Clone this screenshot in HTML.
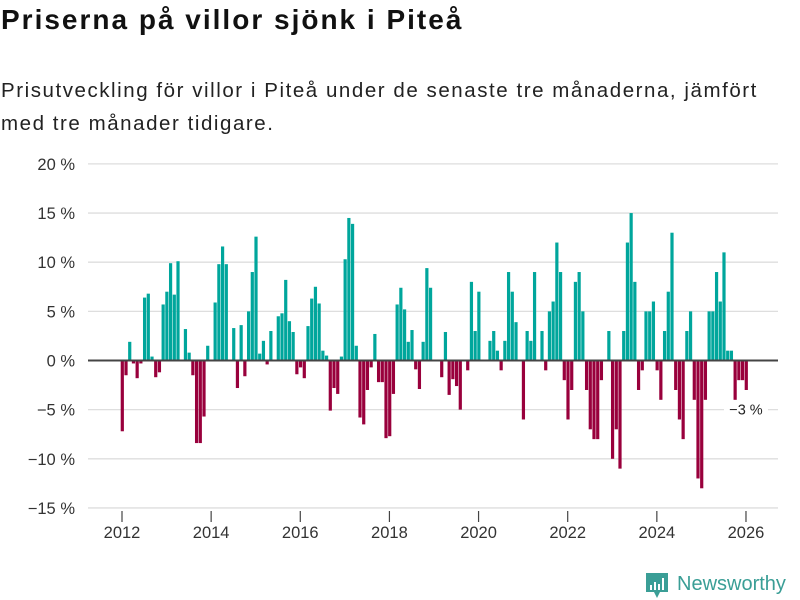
<!DOCTYPE html>
<html><head><meta charset="utf-8">
<style>
body{margin:0;background:#fff;width:800px;height:600px;overflow:hidden;font-family:"Liberation Sans","DejaVu Sans",sans-serif;}
#title{position:absolute;left:1px;top:4px;font-size:28px;font-weight:bold;color:#111;margin:0;letter-spacing:2px;white-space:nowrap}
#sub{position:absolute;left:1px;top:74px;font-size:20.5px;color:#222;line-height:33px;margin:0;width:790px;letter-spacing:1.55px}
svg{position:absolute;left:0;top:0}
</style></head><body>
<h1 id="title">Priserna på villor sjönk i Piteå</h1>
<p id="sub">Prisutveckling för villor i Piteå under de senaste tre månaderna, jämfört med tre månader tidigare.</p>
<svg id="chart" width="800" height="600"></svg>
<script>
const startYear = 2012;
const values = [
-7.2,-1.5,1.9,-0.3,-1.8,-0.3,6.4,6.8,0.4,-1.7,-1.2,5.7,
7.0,9.9,6.7,10.1,0,3.2,0.8,-1.5,-8.4,-8.4,-5.7,1.5,
0,5.9,9.8,11.6,9.8,0,3.3,-2.8,3.6,-1.6,5.0,9.0,
12.6,0.7,2.0,-0.4,3.0,0,4.5,4.8,8.2,4.0,2.9,-1.4,
-0.7,-1.8,3.5,6.3,7.5,5.8,1.0,0.5,-5.1,-2.8,-3.4,0.4,
10.3,14.5,13.9,1.5,-5.8,-6.5,-3.0,-0.7,2.7,-2.2,-2.2,-7.9,
-7.7,-3.4,5.7,7.4,5.2,1.9,3.1,-0.9,-2.9,1.9,9.4,7.4,
0,0,-1.7,2.9,-3.5,-1.9,-2.6,-5.0,0,-1.0,8.0,3.0,
7.0,0,0,2.0,3.0,1.0,-1.0,2.0,9.0,7.0,3.9,0,
-6.0,3.0,2.0,9.0,0,3.0,-1.0,5.0,6.0,12.0,9.0,-2.0,
-6.0,-3.0,8.0,9.0,5.0,-3.0,-7.0,-8.0,-8.0,-2.0,0,3.0,
-10.0,-7.0,-11.0,3.0,12.0,15.0,8.0,-3.0,-1.0,5.0,5.0,6.0,
-1.0,-4.0,3.0,7.0,13.0,-3.0,-6.0,-8.0,3.0,5.0,-4.0,-12.0,
-13.0,-4.0,5.0,5.0,9.0,6.0,11.0,1.0,1.0,-4.0,-2.0,-2.0,
-3.0
];
const yTicks = [20,15,10,5,0,-5,-10,-15];
const yTickLabels = ["20 %","15 %","10 %","5 %","0 %","−5 %","−10 %","−15 %"];
const xTicks = [2012,2014,2016,2018,2020,2022,2024,2026];
const lastLabel = "−3 %";

const NS="http://www.w3.org/2000/svg";
const svg=document.getElementById('chart');
function y(v){return 360.5 - v*9.83;}
function x(yearFrac){return 122 + (yearFrac-2012)*44.57;}
function mk(t,a){const e=document.createElementNS(NS,t);for(const k in a)e.setAttribute(k,a[k]);svg.appendChild(e);return e;}

yTicks.forEach((t,i)=>{
  if(t!==0){const g=mk('line',{x1:88,x2:778,y1:y(t),y2:y(t),stroke:'#dedede','stroke-width':1.3});
  
  }
  const l=mk('text',{x:75,y:y(t)+6,'text-anchor':'end','font-size':16.5,fill:'#333','font-family':'Liberation Sans, sans-serif'});
  l.textContent=yTickLabels[i];
  
  
});
xTicks.forEach(t=>{
  const tk=mk('line',{x1:x(t),x2:x(t),y1:511,y2:522,stroke:'#444','stroke-width':1.2});
  
  
  const l=mk('text',{x:x(t),y:538,'text-anchor':'middle','font-size':16.5,fill:'#333','font-family':'Liberation Sans, sans-serif'});
  l.textContent=t;
  
  
});
values.forEach((v,i)=>{
  const cx=x(startYear+i/12)+0.3;
  const top=v>=0?y(v):y(0);
  const h=Math.abs(y(v)-y(0));
  const r=mk('rect',{x:cx-1.6,y:top,width:3.2,height:Math.max(h,0),fill:v>=0?'#00a69c':'#99003c'});
  
  
});
const z=mk('line',{x1:88,x2:778,y1:y(0),y2:y(0),stroke:'#444','stroke-width':2});


const lx=x(startYear+(values.length-1)/12);
const bg=mk('rect',{x:lx-22,y:y(-5)-8,width:44,height:16,fill:'#fff'});


const lt=mk('text',{x:lx,y:y(-5)+5,'text-anchor':'middle','font-size':14.5,fill:'#222','font-family':'Liberation Sans, sans-serif'});
lt.textContent=lastLabel;



const lg=mk('path',{d:'M646 573 h22 v19 h-8 l-3 6 l-3 -6 h-8 z',fill:'#3a9e96'});


[[650,585,2,5],[654,582,2,8],[658,584,2,6],[662,578,2,12]].forEach(b=>{
  const e=mk('rect',{x:b[0],y:b[1],width:b[2],height:b[3],fill:'#fff'});
  
  
});
const lw=mk('text',{x:677,y:590,'font-size':20,fill:'#3a9e96','font-family':'Liberation Sans, sans-serif'});
lw.textContent='Newsworthy';


</script>
</body></html>
